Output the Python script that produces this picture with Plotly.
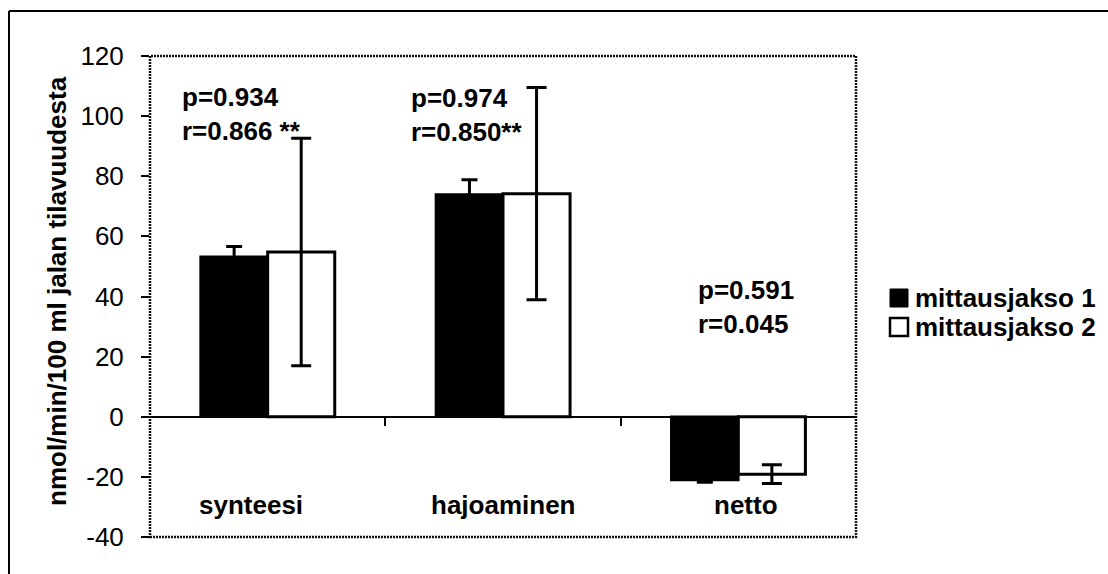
import plotly.graph_objects as go

# Categories and measured values (nmol/min/100 ml leg volume)
categories = ["synteesi", "hajoaminen", "netto"]
series_names = ["mittausjakso 1", "mittausjakso 2"]
period1 = [53.2, 73.9, -21.0]
period1_err = [3.4, 4.9, 0.8]
period2 = [54.8, 74.2, -19.1]
period2_err = [37.8, 35.3, 3.1]
stat_labels = [
    "p=0.934<br>r=0.866 **",
    "p=0.974<br>r=0.850**",
    "p=0.591<br>r=0.045",
]
y_ticks = [-40, -20, 0, 20, 40, 60, 80, 100, 120]
y_ticktext = ["-40", "-20", "0", "20", "40", "60", "80", "100", "120"]
y_title = "nmol/min/100 ml jalan tilavuudesta"

W, H = 1108, 574
L, R, T, B = 150, 856, 56, 537  # plot area in pixels
FONT = "Liberation Sans, Arial, sans-serif"
FS = 26


def px_x(px):
    return (px - L) / (R - L)


def px_y(py):
    return (B - py) / (B - T)


x_idx = list(range(len(categories)))
fills = ["black", "white"]

fig = go.Figure()
fig.add_trace(go.Bar(
    x=x_idx, y=period1, name=series_names[0],
    marker=dict(color=fills[0], line=dict(color="black", width=2.5)),
    error_y=dict(type="data", array=period1_err, color="black",
                 thickness=3, width=8),
))
fig.add_trace(go.Bar(
    x=x_idx, y=period2, name=series_names[1],
    marker=dict(color=fills[1], line=dict(color="black", width=3)),
    error_y=dict(type="data", array=period2_err, color="black",
                 thickness=3, width=10),
))

annotations = []
# Category labels placed inside the plot, below the zero line
label_shift = [-0.07, 0.0, 0.034]
for i, c in enumerate(categories):
    annotations.append(dict(
        x=i + label_shift[i], y=-29.3, xref="x", yref="y",
        text=f"<b>{c}</b>", showarrow=False,
        font=dict(size=FS, color="black", family=FONT),
        xanchor="center", yanchor="middle",
    ))

# Statistics text blocks
stat_pos = [(-0.373, 100.8), (0.602, 100.5), (1.822, 36.4)]
for (sx, sy), s in zip(stat_pos, stat_labels):
    annotations.append(dict(
        x=sx, y=sy, xref="x", yref="y", text=f"<b>{s}</b>",
        showarrow=False, align="left",
        font=dict(size=FS, color="black", family=FONT),
        xanchor="left", yanchor="middle",
    ))

# Rotated axis title
annotations.append(dict(
    x=px_x(57), y=px_y(291), xref="paper", yref="paper",
    text=f"<b>{y_title}</b>", textangle=-90, showarrow=False,
    font=dict(size=FS, color="black", family=FONT),
    xanchor="center", yanchor="middle",
))

shapes = [
    # plot frame
    dict(type="rect", xref="paper", yref="paper", x0=0, y0=0, x1=1, y1=1,
         line=dict(color="#111", width=2.5, dash="2px,1px"), layer="above"),
    # outer chart border (top and left edges)
    dict(type="line", xref="paper", yref="paper",
         x0=px_x(9), x1=px_x(W + 5), y0=px_y(11), y1=px_y(11),
         line=dict(color="black", width=2)),
    dict(type="line", xref="paper", yref="paper",
         x0=px_x(9), x1=px_x(9), y0=px_y(11), y1=px_y(H + 5),
         line=dict(color="black", width=2)),
]

# Legend: a swatch and a bold label per series
leg_x0, leg_y0, leg_dy, sw = 890, 298, 29, 18
for k, (name, fill) in enumerate(zip(series_names, fills)):
    cy = leg_y0 + k * leg_dy
    shapes.append(dict(
        type="rect", xref="paper", yref="paper",
        x0=px_x(leg_x0), x1=px_x(leg_x0 + sw),
        y0=px_y(cy - sw / 2), y1=px_y(cy + sw / 2),
        fillcolor=fill, line=dict(color="black", width=2.5 if k else 1),
    ))
    annotations.append(dict(
        x=px_x(leg_x0 + sw + 5), y=px_y(cy), xref="paper", yref="paper",
        text=f"<b>{name}</b>", showarrow=False,
        font=dict(size=FS, color="black", family=FONT),
        xanchor="left", yanchor="middle",
    ))

fig.update_layout(
    width=W, height=H,
    margin=dict(l=L, r=W - R, t=T, b=H - B, pad=0),
    paper_bgcolor="white", plot_bgcolor="white",
    font=dict(family=FONT, color="black", size=FS),
    barmode="group", bargap=0.43, bargroupgap=0,
    showlegend=False,
    xaxis=dict(
        range=[-0.5, 2.5], anchor="free", position=px_y(417),
        showline=True, linecolor="black", linewidth=1.5,
        ticks="outside", tickvals=[0.5, 1.5], ticklen=8, tickwidth=1.5,
        tickcolor="black", showticklabels=False, showgrid=False,
        zeroline=False, fixedrange=True,
    ),
    yaxis=dict(
        range=[-40, 120], tickvals=y_ticks, ticktext=y_ticktext,
        ticks="outside", ticklen=8,
        tickwidth=1.5, tickcolor="black", showline=False, showgrid=False,
        zeroline=False, ticklabelstandoff=12,
        tickfont=dict(size=FS, family=FONT, color="black"),
    ),
    annotations=annotations, shapes=shapes,
)

fig.write_html("out.html")
